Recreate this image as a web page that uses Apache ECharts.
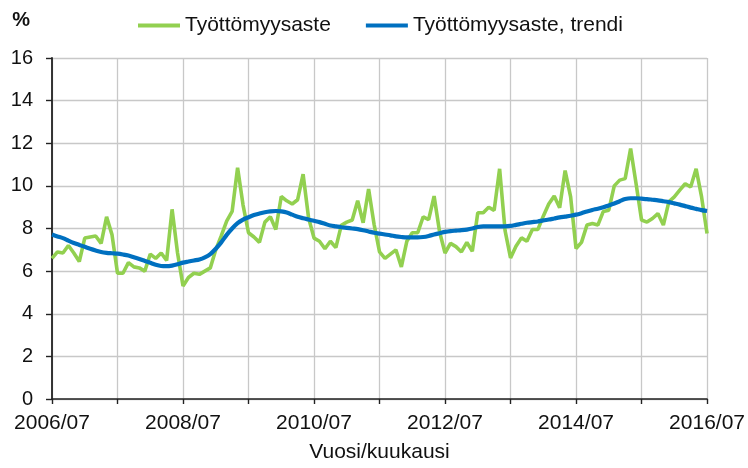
<!DOCTYPE html>
<html>
<head>
<meta charset="utf-8">
<script src="https://cdn.jsdelivr.net/npm/echarts@6/dist/echarts.min.js"></script>
<style>
html,body{margin:0;padding:0;background:#fff;}
#chart{width:748px;height:468px;}
</style>
</head>
<body>
<div id="chart"></div>
<script>
// Categories: monthly, 2006/07 .. 2016/07
var months = [];
for (var y = 2006; y <= 2016; y++) {
  for (var m = 1; m <= 12; m++) {
    if ((y === 2006 && m < 7) || (y === 2016 && m > 7)) continue;
    months.push(y + '/' + (m < 10 ? '0' + m : m));
  }
}

var seriesNames = ['Työttömyysaste', 'Työttömyysaste, trendi'];

var rate = [
  6.6, 6.9, 6.85, 7.2, 6.85, 6.45, 7.55, 7.6, 7.65, 7.3, 8.55, 7.7,
  5.9, 5.9, 6.4, 6.2, 6.15, 6.0, 6.8, 6.6, 6.85, 6.5, 8.9, 6.85,
  5.3, 5.7, 5.9, 5.85, 6.0, 6.15, 7.0, 7.65, 8.35, 8.8, 10.85, 9.1,
  7.8, 7.6, 7.35, 8.3, 8.55, 7.95, 9.5, 9.3, 9.15, 9.35, 10.55, 8.5,
  7.55, 7.4, 7.05, 7.4, 7.1, 8.15, 8.3, 8.4, 9.3, 8.27, 9.85, 8.2,
  6.9, 6.6, 6.8, 7.0, 6.2, 7.4, 7.8, 7.8, 8.55, 8.42, 9.52, 7.85,
  6.85, 7.3, 7.15, 6.9, 7.35, 6.93, 8.74, 8.74, 9.0, 8.85, 10.8, 7.9,
  6.62, 7.17, 7.56, 7.4, 7.95, 7.95, 8.58, 9.15, 9.52, 8.97, 10.72, 9.5,
  7.06, 7.35, 8.16, 8.23, 8.16, 8.8, 8.86, 10.0, 10.27, 10.34, 11.75, 10.1,
  8.4, 8.3, 8.47, 8.7, 8.16, 9.25, 9.48, 9.8, 10.1, 9.95, 10.8, 9.48,
  7.77
];

var trend = [
  7.72, 7.63, 7.55, 7.43, 7.32, 7.23, 7.14, 7.05, 6.97, 6.9, 6.86, 6.84,
  6.82, 6.78, 6.73, 6.65, 6.57, 6.48, 6.39, 6.3, 6.24, 6.23, 6.26, 6.32,
  6.4, 6.45, 6.5, 6.55, 6.65, 6.8, 7.05, 7.35, 7.7, 8.0, 8.25, 8.42,
  8.53, 8.63, 8.7, 8.76, 8.8, 8.82, 8.8, 8.75, 8.65, 8.55, 8.48, 8.42,
  8.36, 8.3, 8.22, 8.14, 8.1, 8.06, 8.03, 8.0, 7.97, 7.92, 7.86, 7.8,
  7.76, 7.72, 7.68, 7.63, 7.6, 7.58, 7.58, 7.58, 7.6, 7.65, 7.72, 7.78,
  7.84, 7.88, 7.9, 7.92, 7.95, 8.0, 8.07, 8.1, 8.1, 8.1, 8.1, 8.1,
  8.12, 8.17, 8.22, 8.27, 8.3, 8.33, 8.38, 8.42, 8.47, 8.52, 8.56, 8.6,
  8.65, 8.72, 8.8, 8.87, 8.93, 9.0, 9.08, 9.17, 9.28, 9.38, 9.42, 9.42,
  9.4, 9.38, 9.35, 9.32, 9.28, 9.24, 9.18, 9.12, 9.05, 8.98, 8.92, 8.86,
  8.82
];

var yMin = 0, yMax = 16, yStep = 2;
var xAxisTitle = 'Vuosi/kuukausi';
var yAxisTitle = '%';

var FONT = "'Liberation Sans', Arial, sans-serif";
var TXT = '#111111';

var chart = echarts.init(document.getElementById('chart'), null, {renderer: 'canvas'});
chart.setOption({
  backgroundColor: '#ffffff',
  animation: false,
  textStyle: {fontFamily: FONT},
  legend: {
    left: 133,
    top: 10,
    itemGap: 35,
    itemWidth: 42,
    itemHeight: 4,
    textStyle: {fontSize: 21, color: TXT, fontFamily: FONT},
    data: [
      {name: seriesNames[0], icon: 'rect'},
      {name: seriesNames[1], icon: 'rect'}
    ]
  },
  grid: {left: 52, right: 39, top: 58, bottom: 69, containLabel: false},
  xAxis: {
    type: 'category',
    data: months,
    boundaryGap: false,
    name: xAxisTitle,
    nameLocation: 'middle',
    nameGap: 43,
    nameTextStyle: {fontSize: 21, color: TXT, fontFamily: FONT},
    axisLine: {show: true, lineStyle: {color: '#222', width: 1.6}},
    axisTick: {show: true, length: 5, interval: function (i) { return i % 12 === 0; },
      lineStyle: {color: '#222', width: 1.4}},
    axisLabel: {interval: function (i) { return i % 24 === 0; }, margin: 14,
      fontSize: 21, color: TXT, fontFamily: FONT},
    splitLine: {show: true, interval: function (i) { return i % 12 === 0; },
      lineStyle: {color: '#c8c8c8', width: 1.3}}
  },
  yAxis: {
    type: 'value',
    min: yMin, max: yMax, interval: yStep,
    name: yAxisTitle,
    nameLocation: 'end',
    nameGap: 28,
    nameTextStyle: {fontSize: 20, fontWeight: 'bold', color: TXT, fontFamily: FONT, align: 'right', padding: [0, 22, 0, 0]},
    axisLine: {show: true, lineStyle: {color: '#222', width: 1.8}},
    axisTick: {show: true, length: 6, lineStyle: {color: '#222', width: 1.4}},
    axisLabel: {margin: 19, fontSize: 20, color: TXT, fontFamily: FONT},
    splitLine: {show: true, lineStyle: {color: '#c8c8c8', width: 1.3}}
  },
  series: [
    {
      name: seriesNames[0], type: 'line', data: rate,
      symbol: 'none', smooth: false,
      lineStyle: {color: '#92d050', width: 3.6},
      itemStyle: {color: '#92d050'},
      z: 2
    },
    {
      name: seriesNames[1], type: 'line', data: trend,
      symbol: 'none', smooth: 0.3,
      lineStyle: {color: '#0070c0', width: 4.2},
      itemStyle: {color: '#0070c0'},
      z: 3
    }
  ]
});
</script>
</body>
</html>
